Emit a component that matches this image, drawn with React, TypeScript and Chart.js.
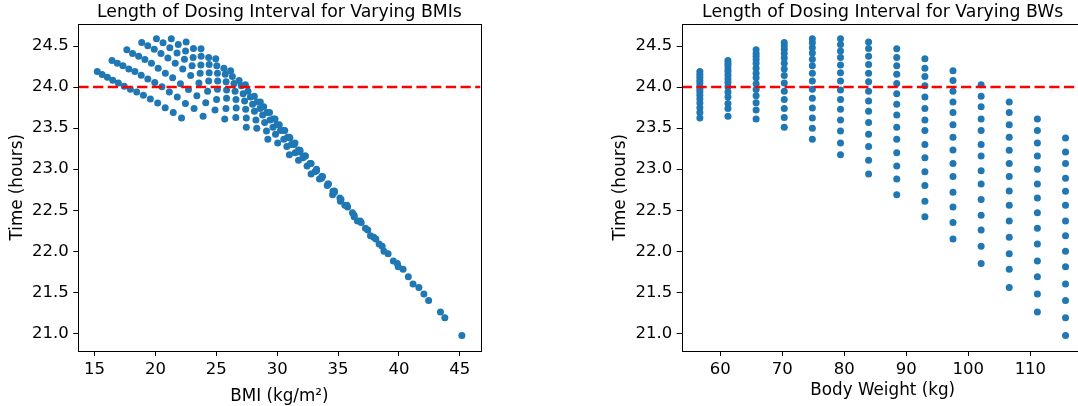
import React, { useEffect, useRef } from "react";
import { Chart, registerables } from "chart.js";

Chart.register(...registerables);

const FONT = "'DejaVu Sans', 'Liberation Sans', sans-serif";

// Body weights (kg): 125 lb to 255 lb in steps of 10 lb
const bodyWeightsKg = [56.7, 61.23, 65.77, 70.31, 74.84, 79.38, 83.91, 88.45, 92.99, 97.52, 102.06, 106.59, 111.13, 115.67];

// BMI (kg/m^2) for each height (76 in down to 63 in), one value per body weight
const bmiHeight76 = [15.22, 16.43, 17.65, 18.87, 20.08, 21.3, 22.52, 23.74, 24.95, 26.17, 27.39, 28.61, 29.82, 31.04];
const bmiHeight75 = [15.62, 16.87, 18.12, 19.37, 20.62, 21.87, 23.12, 24.37, 25.62, 26.87, 28.12, 29.37, 30.62, 31.87];
const bmiHeight74 = [16.05, 17.33, 18.62, 19.9, 21.18, 22.47, 23.75, 25.04, 26.32, 27.6, 28.89, 30.17, 31.46, 32.74];
const bmiHeight73 = [16.49, 17.81, 19.13, 20.45, 21.77, 23.09, 24.41, 25.73, 27.05, 28.37, 29.68, 31.0, 32.32, 33.64];
const bmiHeight72 = [16.95, 18.31, 19.67, 21.02, 22.38, 23.73, 25.09, 26.45, 27.8, 29.16, 30.51, 31.87, 33.23, 34.58];
const bmiHeight71 = [17.43, 18.83, 20.22, 21.62, 23.01, 24.41, 25.8, 27.2, 28.59, 29.99, 31.38, 32.78, 34.17, 35.56];
const bmiHeight70 = [17.94, 19.37, 20.81, 22.24, 23.67, 25.11, 26.54, 27.98, 29.41, 30.85, 32.28, 33.72, 35.15, 36.59];
const bmiHeight69 = [18.46, 19.94, 21.41, 22.89, 24.37, 25.84, 27.32, 28.8, 30.27, 31.75, 33.23, 34.7, 36.18, 37.66];
const bmiHeight68 = [19.01, 20.53, 22.05, 23.57, 25.09, 26.61, 28.13, 29.65, 31.17, 32.69, 34.21, 35.73, 37.25, 38.77];
const bmiHeight67 = [19.58, 21.14, 22.71, 24.28, 25.84, 27.41, 28.97, 30.54, 32.11, 33.67, 35.24, 36.81, 38.37, 39.94];
const bmiHeight66 = [20.18, 21.79, 23.4, 25.02, 26.63, 28.25, 29.86, 31.47, 33.09, 34.7, 36.32, 37.93, 39.54, 41.16];
const bmiHeight65 = [20.8, 22.46, 24.13, 25.79, 27.46, 29.12, 30.79, 32.45, 34.11, 35.78, 37.44, 39.11, 40.77, 42.44];
const bmiHeight64 = [21.46, 23.17, 24.89, 26.6, 28.32, 30.04, 31.75, 33.47, 35.19, 36.9, 38.62, 40.34, 42.05, 43.77];
const bmiHeight63 = [22.14, 23.91, 25.69, 27.46, 29.23, 31.0, 32.78, 34.55, 36.32, 38.1, 39.87, 41.64, 43.41, 45.17];

// Dosing interval (hours) for each body weight, tallest height first
const time56kg = [24.19, 24.155, 24.12, 24.085, 24.05, 24.01, 23.975, 23.94, 23.9, 23.855, 23.805, 23.75, 23.69, 23.625];
const time61kg = [24.325, 24.29, 24.26, 24.22, 24.19, 24.145, 24.1, 24.055, 24.005, 23.94, 23.88, 23.8, 23.74, 23.645];
const time66kg = [24.455, 24.41, 24.375, 24.335, 24.29, 24.23, 24.17, 24.115, 24.04, 23.97, 23.895, 23.81, 23.72, 23.613];
const time70kg = [24.545, 24.505, 24.46, 24.41, 24.355, 24.29, 24.22, 24.14, 24.05, 23.95, 23.85, 23.74, 23.63, 23.51];
const time75kg = [24.59, 24.54, 24.48, 24.415, 24.34, 24.26, 24.17, 24.075, 23.975, 23.865, 23.745, 23.625, 23.5, 23.365];
const time79kg = [24.59, 24.52, 24.44, 24.36, 24.27, 24.175, 24.075, 23.965, 23.85, 23.73, 23.6, 23.465, 23.32, 23.175];
const time84kg = [24.55, 24.47, 24.375, 24.275, 24.17, 24.065, 23.95, 23.83, 23.705, 23.57, 23.425, 23.275, 23.11, 22.94];
const time88kg = [24.467, 24.36, 24.26, 24.158, 24.044, 23.92, 23.79, 23.66, 23.51, 23.365, 23.2, 23.04, 22.88, 22.69];
const time93kg = [24.345, 24.23, 24.13, 24.016, 23.88, 23.74, 23.6, 23.47, 23.3, 23.14, 22.97, 22.8, 22.61, 22.42];
const time98kg = [24.2, 24.08, 23.95, 23.82, 23.69, 23.54, 23.39, 23.235, 23.07, 22.91, 22.72, 22.54, 22.35, 22.15];
const time102kg = [24.03, 23.89, 23.76, 23.61, 23.47, 23.3, 23.16, 22.98, 22.82, 22.63, 22.44, 22.26, 22.06, 21.85];
const time107kg = [23.82, 23.69, 23.54, 23.39, 23.23, 23.07, 22.91, 22.735, 22.56, 22.37, 22.17, 21.97, 21.78, 21.56];
const time111kg = [23.61, 23.47, 23.32, 23.16, 23.0, 22.82, 22.65, 22.47, 22.28, 22.09, 21.88, 21.69, 21.48, 21.26];
const time116kg = [23.38, 23.21, 23.07, 22.89, 22.73, 22.56, 22.37, 22.19, 22.0, 21.81, 21.6, 21.4, 21.19, 20.975];

const bmiByHeight = [
  bmiHeight76, bmiHeight75, bmiHeight74, bmiHeight73, bmiHeight72, bmiHeight71, bmiHeight70,
  bmiHeight69, bmiHeight68, bmiHeight67, bmiHeight66, bmiHeight65, bmiHeight64, bmiHeight63,
];
const timeByWeight = [
  time56kg, time61kg, time66kg, time70kg, time75kg, time79kg, time84kg,
  time88kg, time93kg, time98kg, time102kg, time107kg, time111kg, time116kg,
];

const timeTicks = [21.0, 21.5, 22.0, 22.5, 23.0, 23.5, 24.0, 24.5];
const bmiTicks = [15, 20, 25, 30, 35, 40, 45];
const weightTicks = [60, 70, 80, 90, 100, 110];
const thresholdHours = 24.0;

const timeMin = 20.785;
const timeMax = 24.775;
const bmiMin = 13.66;
const bmiMax = 46.7;
const weightMin = 53.77;
const weightMax = 118.6;

const bmiPoints: { x: number; y: number }[] = [];
const weightPoints: { x: number; y: number }[] = [];
timeByWeight.forEach((times, k) => {
  times.forEach((t, j) => {
    bmiPoints.push({ x: bmiByHeight[j][k], y: t });
    weightPoints.push({ x: bodyWeightsKg[k], y: t });
  });
});

const framePlugin = {
  id: "frame",
  afterDraw(chart: any) {
    const { ctx, chartArea: a } = chart;
    const l = Math.round(a.left) + 0.5;
    const r = Math.round(a.right) + 0.5;
    const t = Math.round(a.top) + 0.5;
    const b = Math.round(a.bottom) + 0.5;
    ctx.save();
    ctx.strokeStyle = "#000";
    ctx.lineWidth = 1;
    ctx.strokeRect(l, t, r - l, b - t);
    ctx.restore();
  },
};

type Cfg = {
  title: string;
  xLabel: string;
  points: { x: number; y: number }[];
  xMin: number;
  xMax: number;
  xTicks: number[];
  yAxisWidth: number;
  rightPad: number;
  yTitlePad: number;
  xTitlePad: number;
};

function makeChart(canvas: HTMLCanvasElement, c: Cfg) {
  return new Chart(canvas, {
    type: "scatter",
    data: {
      datasets: [
        {
          data: [
            { x: c.xMin, y: thresholdHours },
            { x: c.xMax, y: thresholdHours },
          ],
          showLine: true,
          borderColor: "#ff0000",
          borderWidth: 2.5,
          borderDash: [10.3, 4.4],
          pointRadius: 0,
          order: 0,
        } as any,
        {
          data: c.points,
          backgroundColor: "#1f77b4",
          borderWidth: 0,
          pointRadius: 3.5,
          order: 1,
        },
      ],
    },
    options: {
      responsive: false,
      maintainAspectRatio: false,
      animation: false,
      devicePixelRatio: 1,
      layout: { padding: { left: 0, right: c.rightPad, top: 0, bottom: 0 } },
      plugins: {
        legend: { display: false },
        tooltip: { enabled: false },
        title: {
          display: true,
          text: c.title,
          fullSize: false,
          color: "#000",
          font: { family: FONT, size: 17.3, weight: "normal", lineHeight: 1.2 },
          padding: { top: 2.0, bottom: 0.74 },
        },
      },
      scales: {
        x: {
          type: "linear",
          position: "bottom",
          min: c.xMin,
          max: c.xMax,
          afterBuildTicks: (scale: any) => {
            scale.ticks = c.xTicks.map((v) => ({ value: v }));
          },
          afterFit: (scale: any) => {
            scale.height = 55;
          },
          ticks: {
            autoSkip: false,
            maxRotation: 0,
            color: "#000",
            padding: 3.5,
            font: { family: FONT, size: 16.5, lineHeight: 1.2 },
            callback: (v: any) => String(v),
          },
          grid: { display: true, drawOnChartArea: false, drawTicks: true, tickLength: 5, color: "#000" },
          border: { display: false },
          title: {
            display: true,
            text: c.xLabel,
            color: "#000",
            font: { family: FONT, size: 16.75, lineHeight: 1 },
            padding: { top: 0, bottom: c.xTitlePad },
          },
        },
        y: {
          type: "linear",
          min: timeMin,
          max: timeMax,
          afterBuildTicks: (scale: any) => {
            scale.ticks = timeTicks.map((v) => ({ value: v }));
          },
          afterFit: (scale: any) => {
            scale.width = c.yAxisWidth;
          },
          ticks: {
            autoSkip: false,
            color: "#000",
            padding: 4.5,
            font: { family: FONT, size: 16.5, lineHeight: 1.2 },
            callback: (v: any) => Number(v).toFixed(1),
          },
          grid: { display: true, drawOnChartArea: false, drawTicks: true, tickLength: 5, color: "#000" },
          border: { display: false },
          title: {
            display: true,
            text: "Time (hours)",
            color: "#000",
            font: { family: FONT, size: 16.75, lineHeight: 1 },
            padding: { top: c.yTitlePad, bottom: 0 },
          },
        },
      },
    },
    plugins: [framePlugin],
  } as any);
}

export default function App() {
  const leftRef = useRef<HTMLCanvasElement>(null);
  const rightRef = useRef<HTMLCanvasElement>(null);

  useEffect(() => {
    const left = makeChart(leftRef.current!, {
      title: "Length of Dosing Interval for Varying BMIs",
      xLabel: "BMI (kg/m²)",
      points: bmiPoints,
      xMin: bmiMin,
      xMax: bmiMax,
      xTicks: bmiTicks,
      yAxisWidth: 78.3,
      rightPad: 19.5,
      yTitlePad: 9.2,
      xTitlePad: 1.2,
    });
    const right = makeChart(rightRef.current!, {
      title: "Length of Dosing Interval for Varying BWs",
      xLabel: "Body Weight (kg)",
      points: weightPoints,
      xMin: weightMin,
      xMax: weightMax,
      xTicks: weightTicks,
      yAxisWidth: 78.7,
      rightPad: 19.3,
      yTitlePad: 9.6,
      xTitlePad: 7.0,
    });
    return () => {
      left.destroy();
      right.destroy();
    };
  }, []);

  return (
    <div
      style={{
        position: "fixed",
        left: 0,
        top: 0,
        width: 1078,
        height: 406,
        overflow: "hidden",
        background: "#fff",
      }}
    >
      <canvas
        ref={leftRef}
        width={500}
        height={406}
        style={{ position: "absolute", left: 0, top: 0, width: 500, height: 406 }}
      />
      <canvas
        ref={rightRef}
        width={500}
        height={406}
        style={{ position: "absolute", left: 603, top: 0, width: 500, height: 406 }}
      />
    </div>
  );
}
